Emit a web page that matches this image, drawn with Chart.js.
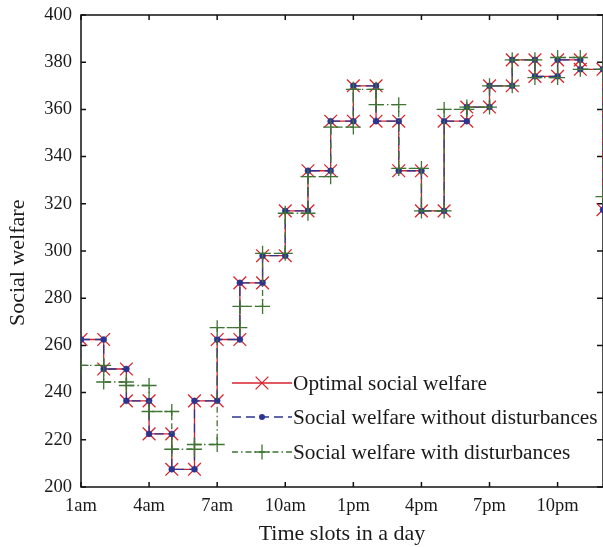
<!DOCTYPE html>
<html>
<head>
<meta charset="utf-8">
<script src="https://cdn.jsdelivr.net/npm/chart.js@4.4.0/dist/chart.umd.min.js"></script>
<style>
html, body { margin: 0; padding: 0; background: #fff; }
</style>
</head>
<body>
<canvas id="welfareChart" width="603" height="547"></canvas>
<script>
// Slot start hours (slot h runs from h to h+1)
const hours = [1, 2, 3, 4, 5, 6, 7, 8, 9, 10, 11, 12, 13, 14, 15, 16, 17, 18, 19, 20, 21, 22, 23, 24];
const tickHours = [1, 4, 7, 10, 13, 16, 19, 22];
const tickLabels = ['1am', '4am', '7am', '10am', '1pm', '4pm', '7pm', '10pm'];

const optimal = [262.5, 250, 236.5, 222.5, 207.5, 236.5, 262.5, 286.5, 298, 317, 334, 355,
                 370, 355, 334, 317, 355, 361, 370, 381, 374, 381, 377, 317.5];
const withoutDist = [262.5, 250, 236.5, 222.5, 207.5, 236.5, 262.5, 286.5, 298, 317, 334, 355,
                     370, 355, 334, 317, 355, 361, 370, 381, 374, 381, 377, 317.5];
const withDist = [251.5, 244.5, 243, 232, 216, 218, 267.5, 276.5, 299, 316, 331.5, 352.5,
                  368.5, 362, 335, 317, 360, 361, 370, 381, 373.5, 382, 377, 323];

const serif = "'Liberation Serif', 'Times New Roman', serif";
const RED = '#d8232c';
const BLUE = '#2b3590';
const GREEN = '#3f7434';

// each slot value is held flat over its hour
function steps(vals) {
    const pts = [];
    vals.forEach((v, i) => {
        pts.push({ x: hours[i], y: v });
        pts.push({ x: hours[i] + 1, y: v });
    });
    return pts;
}

// Box round the plot with inward ticks, plus the y title
const framePlugin = {
    id: 'frame',
    beforeDatasetsDraw(chart) {
        const { ctx, chartArea: a, scales: { x, y } } = chart;
        ctx.save();
        ctx.strokeStyle = '#111';
        ctx.lineWidth = 1.5;
        ctx.strokeRect(a.left, a.top, a.right - a.left, a.bottom - a.top);
        ctx.beginPath();
        tickHours.forEach(h => {
            const px = x.getPixelForValue(h);
            ctx.moveTo(px, a.bottom); ctx.lineTo(px, a.bottom - 5);
            ctx.moveTo(px, a.top); ctx.lineTo(px, a.top + 5);
        });
        y.ticks.forEach(t => {
            const py = y.getPixelForValue(t.value);
            ctx.moveTo(a.left, py); ctx.lineTo(a.left + 5, py);
            ctx.moveTo(a.right, py); ctx.lineTo(a.right - 6, py);
        });
        ctx.stroke();

        // y title sits a little below the middle of the axis
        ctx.translate(18, y.getPixelForValue(295));
        ctx.rotate(-Math.PI / 2);
        ctx.fillStyle = '#1a1a1a';
        ctx.font = "22px " + serif;
        ctx.textAlign = 'center';
        ctx.textBaseline = 'middle';
        ctx.fillText('Social welfare', 0, 0);
        ctx.restore();
    }
};

function drawMarker(ctx, style, r, x, y) {
    ctx.beginPath();
    if (style === 'crossRot') {
        ctx.moveTo(x - r * 0.7071, y - r * 0.7071); ctx.lineTo(x + r * 0.7071, y + r * 0.7071);
        ctx.moveTo(x - r * 0.7071, y + r * 0.7071); ctx.lineTo(x + r * 0.7071, y - r * 0.7071);
        ctx.stroke();
    } else if (style === 'cross') {
        ctx.moveTo(x - r, y); ctx.lineTo(x + r, y);
        ctx.moveTo(x, y - r); ctx.lineTo(x, y + r);
        ctx.stroke();
    } else {
        ctx.arc(x, y, r, 0, Math.PI * 2);
        ctx.fill();
    }
}

// Legend inside the plot, lower right
const insideLegend = {
    id: 'insideLegend',
    afterDraw(chart) {
        const { ctx, chartArea: a } = chart;
        const x0 = a.left + 151, len = 60;
        const rows = [a.bottom - 104, a.bottom - 70, a.bottom - 35];
        ctx.save();
        chart.data.datasets.forEach((ds, i) => {
            const yy = rows[i];
            ctx.strokeStyle = ds.borderColor;
            ctx.fillStyle = ds.pointBackgroundColor || ds.borderColor;
            ctx.lineWidth = ds.borderWidth;
            ctx.setLineDash(ds.borderDash || []);
            ctx.beginPath();
            ctx.moveTo(x0, yy); ctx.lineTo(x0 + len, yy);
            ctx.stroke();
            ctx.setLineDash([]);
            drawMarker(ctx, ds.pointStyle, ds.pointRadius, x0 + len / 2, yy);
            ctx.fillStyle = '#1a1a1a';
            ctx.font = "21.3px " + serif;
            ctx.textBaseline = 'middle';
            ctx.fillText(ds.label, x0 + len + 1, yy + 1);
        });
        ctx.restore();
    }
};

const ctx = document.getElementById('welfareChart').getContext('2d');
new Chart(ctx, {
    type: 'line',
    data: {
        datasets: [
            {
                label: 'Optimal social welfare',
                data: steps(optimal),
                borderColor: RED,
                borderWidth: 1.3,
                pointStyle: 'crossRot',
                pointRadius: 9,
                pointBorderColor: RED,
                pointBorderWidth: 1.3,
                order: 3
            },
            {
                label: 'Social welfare without disturbances',
                data: steps(withoutDist),
                borderColor: BLUE,
                borderWidth: 1.3,
                borderDash: [9, 5],
                pointStyle: 'circle',
                pointRadius: 3,
                pointBackgroundColor: BLUE,
                pointBorderColor: BLUE,
                pointBorderWidth: 0.5,
                order: 2
            },
            {
                label: 'Social welfare with disturbances',
                data: steps(withDist),
                borderColor: GREEN,
                borderWidth: 1.3,
                borderDash: [6, 3, 1.5, 3],
                pointStyle: 'cross',
                pointRadius: 7.5,
                pointBorderColor: GREEN,
                pointBorderWidth: 1.3,
                order: 1
            }
        ]
    },
    options: {
        responsive: false,
        animation: false,
        layout: { padding: 0, autoPadding: false },
        plugins: { legend: { display: false }, tooltip: { enabled: false } },
        elements: { line: { tension: 0, fill: false } },
        scales: {
            x: {
                type: 'linear',
                min: 1,
                max: 24,
                afterBuildTicks: scale => { scale.ticks = tickHours.map(v => ({ value: v })); },
                afterFit: scale => {
                    scale.height = 60;
                    scale.paddingLeft = 0;
                    scale.paddingRight = 0;
                },
                grid: { display: false, drawTicks: false },
                border: { display: false },
                ticks: {
                    padding: 8,
                    color: '#1a1a1a',
                    font: { family: serif, size: 18.5 },
                    maxRotation: 0,
                    callback: v => tickLabels[tickHours.indexOf(v)]
                },
                title: {
                    display: true,
                    text: 'Time slots in a day',
                    color: '#1a1a1a',
                    font: { family: serif, size: 22 },
                    padding: { top: 0, bottom: 0 }
                }
            },
            y: {
                min: 200,
                max: 400,
                afterFit: scale => {
                    scale.width = 81;
                    scale.paddingTop = 15;
                    scale.paddingBottom = 0;
                },
                grid: { display: false, drawTicks: false },
                border: { display: false },
                ticks: {
                    stepSize: 20,
                    padding: 9,
                    color: '#1a1a1a',
                    font: { family: serif, size: 18.5 }
                },
                title: { display: false }
            }
        }
    },
    plugins: [framePlugin, insideLegend]
});
</script>
</body>
</html>
